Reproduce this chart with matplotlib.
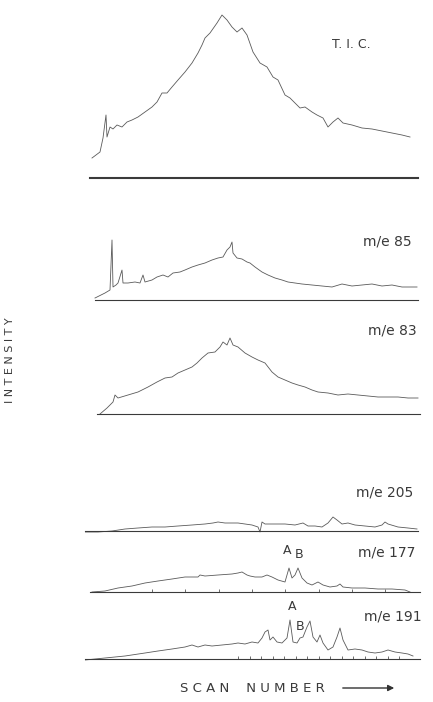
import numpy as np
import matplotlib
matplotlib.use("Agg")
import matplotlib.pyplot as plt

# scan numbers and intensities
tic_scan = [7, 15, 18, 21, 22, 25, 28, 32, 37, 42, 47, 53, 60, 67, 72, 77, 82, 87, 93, 100,
            107, 113, 117, 120, 125, 132, 137, 142, 147, 152, 157, 162, 168, 175, 182, 188, 193,
            200, 205, 210, 215, 220, 227, 232, 238, 243, 248, 253, 258, 267, 277, 287, 297, 307,
            317, 325]
tic_int = [20, 26, 40, 63, 41, 51, 49, 53, 51, 56, 58, 61, 66, 71, 76, 85, 85, 91, 98, 106,
           115, 125, 133, 140, 145, 155, 163, 158, 151, 146, 150, 143, 126, 115, 111, 101, 98,
           83, 80, 75, 70, 71, 66, 63, 60, 51, 56, 60, 55, 53, 50, 49, 47, 45, 43, 41]

mz85_scan = [10, 20, 25, 27, 28, 31, 33, 37, 38, 43, 50, 55, 58, 60, 67, 72, 78, 83, 88, 95,
             100, 107, 113, 120, 127, 133, 138, 142, 145, 147, 148, 152, 157, 162, 165, 170, 177,
             183, 190, 197, 203, 210, 217, 227, 237, 247, 257, 267, 277, 287, 297, 307, 317, 327,
             332]
mz85_int = [2, 7, 10, 60, 13, 15, 17, 30, 17, 17, 18, 17, 25, 18, 20, 23, 25, 23, 27, 28,
            30, 33, 35, 37, 40, 42, 43, 50, 53, 58, 47, 42, 41, 38, 37, 33, 28,
            25, 22, 20, 18, 17, 16, 15, 14, 13, 16, 14, 15, 16, 14, 15, 13, 13, 13]

mz83_scan = [15, 22, 28, 30, 33, 43, 53, 63, 72, 80, 87, 93, 100, 107, 112, 117, 123, 130, 135,
             138, 142, 145, 148, 153, 160, 167, 173, 180, 187, 193, 200, 207, 213, 220, 227, 233,
             243, 253, 263, 273, 283, 293, 303, 313, 323, 333]
mz83_int = [0, 6, 12, 19, 16, 19, 22, 27, 32, 36, 37, 41, 44, 47, 51, 56, 61, 62, 67,
            72, 69, 76, 69, 67, 61, 57, 54, 51, 42, 37, 34, 31, 29, 27, 24, 22,
            21, 19, 20, 19, 18, 17, 17, 17, 16, 16]

mz205_scan = [0, 13, 27, 40, 53, 67, 80, 93, 107, 120, 128, 133, 140, 147, 153, 160, 167, 173,
              175, 177, 180, 190, 200, 210, 218, 223, 230, 237, 243, 248, 252, 257, 263, 270,
              280, 290, 297, 300, 303, 313, 323, 332]
mz205_int = [-1, -1, 0, 2, 3, 4, 4, 5, 6, 7, 8, 9, 8, 8, 8, 7, 6, 4,
             -1, 9, 7, 7, 7, 6, 8, 5, 5, 4, 8, 14, 11, 7, 8, 6,
             5, 4, 6, 9, 7, 4, 3, 2]

mz177_scan = [7, 20, 33, 47, 60, 73, 87, 100, 113, 115, 120, 133, 147, 153, 157, 162, 165, 170,
              177, 182, 187, 193, 200, 204, 207, 210, 213, 217, 222, 227, 233, 238, 245, 252,
              255, 258, 267, 280, 293, 307, 320, 325]
mz177_int = [0, 1, 4, 6, 9, 11, 13, 15, 15, 17, 16, 17, 18, 19, 20, 17, 16, 15,
             15, 17, 15, 12, 10, 24, 14, 17, 24, 14, 9, 7, 10, 7, 5, 6,
             8, 5, 4, 4, 3, 3, 2, 0]

mz191_scan = [0, 20, 40, 60, 73, 87, 100, 107, 113, 120, 127, 137, 147, 153, 160, 167, 173, 177,
              180, 183, 185, 188, 192, 197, 202, 205, 208, 212, 215, 218, 222, 225, 228, 232,
              235, 238, 243, 248, 252, 255, 258, 263, 270, 277, 283, 290, 297, 303, 310, 317,
              323, 328]
mz191_int = [-1, 1, 3, 6, 8, 10, 12, 14, 12, 14, 13, 14, 15, 16, 15, 17, 16, 21,
             27, 29, 19, 22, 17, 16, 21, 39, 17, 16, 21, 22, 32, 38, 22, 17,
             24, 16, 9, 12, 22, 31, 19, 9, 10, 9, 7, 6, 7, 9, 7, 6,
             5, 3]

W, H = 433, 702
fig = plt.figure(figsize=(W / 100, H / 100), dpi=100)
fig.patch.set_facecolor("white")

ink = "#5a5a5a"
txt = "#3a3a3a"


def panel(base_px, top, bounds, lw_base=0.8):
    # axes in pixel units: 1 intensity unit = 1 pixel
    bottom = base_px + 4
    ax = fig.add_axes([85 / W, 1 - bottom / H, 335 / W, (top + 4) / H])
    ax.set_xlim(0, 335)
    ax.set_ylim(-4, top)
    ax.patch.set_alpha(0)
    for s in ["top", "right", "left"]:
        ax.spines[s].set_visible(False)
    ax.spines["bottom"].set_position(("data", 0))
    ax.spines["bottom"].set_bounds(*bounds)
    ax.spines["bottom"].set_color("#3a3a3a")
    ax.spines["bottom"].set_linewidth(lw_base)
    ax.set_yticks([])
    ax.set_xticks([])
    return ax


ax = panel(178, 170, (5, 333), lw_base=1.5)
ax.plot(tic_scan, tic_int, color=ink, lw=0.6)
ax.text(266, 133, "T. I. C.", fontsize=9, color=txt, ha="center", va="center")

ax = panel(300, 70, (10, 333))
ax.plot(mz85_scan, mz85_int, color=ink, lw=0.6)
ax.text(302, 58, "m/e 85", fontsize=10, color=txt, ha="center", va="center")

ax = panel(414, 95, (12, 335))
ax.plot(mz83_scan, mz83_int, color=ink, lw=0.6)
ax.text(307, 84, "m/e 83", fontsize=10, color=txt, ha="center", va="center")

ax = panel(531, 45, (0, 333))
ax.plot(mz205_scan, mz205_int, color=ink, lw=0.6)
ax.text(300, 39, "m/e 205", fontsize=10, color=txt, ha="center", va="center")

ax = panel(592, 45, (5, 335))
ax.plot(mz177_scan, mz177_int, color=ink, lw=0.6)
ax.set_xticks(np.arange(67, 310, 33.3))
ax.tick_params(axis="x", direction="in", length=2, width=0.6, color="#555555", labelbottom=False)
ax.text(302, 39, "m/e 177", fontsize=10, color=txt, ha="center", va="center")
ax.text(202, 42, "A", fontsize=9, color=txt, ha="center", va="center")
ax.text(214, 37, "B", fontsize=9, color=txt, ha="center", va="center")

ax = panel(659, 55, (0, 335))
ax.plot(mz191_scan, mz191_int, color=ink, lw=0.6)
ax.set_xticks(np.arange(153, 320, 11.5))
ax.tick_params(axis="x", direction="in", length=2, width=0.6, color="#555555", labelbottom=False)
ax.text(308, 42, "m/e 191", fontsize=10, color=txt, ha="center", va="center")
ax.text(207, 52, "A", fontsize=9, color=txt, ha="center", va="center")
ax.text(215, 32, "B", fontsize=9, color=txt, ha="center", va="center")

fig.text(10 / W, 1 - 360 / H, "I N T E N S I T Y", rotation=90, fontsize=8, color=txt,
         ha="center", va="center")
fig.text(252 / W, 1 - 688 / H, "S C A N    N U M B E R", fontsize=9.5, color=txt,
         ha="center", va="center")
fig.add_artist(matplotlib.patches.FancyArrowPatch(
    (340 / W, 1 - 688 / H), (397 / W, 1 - 688 / H), transform=fig.transFigure,
    arrowstyle="-|>", mutation_scale=9, lw=1.0, color="#333333"))

fig.savefig("out.png", dpi=100, facecolor="white")
